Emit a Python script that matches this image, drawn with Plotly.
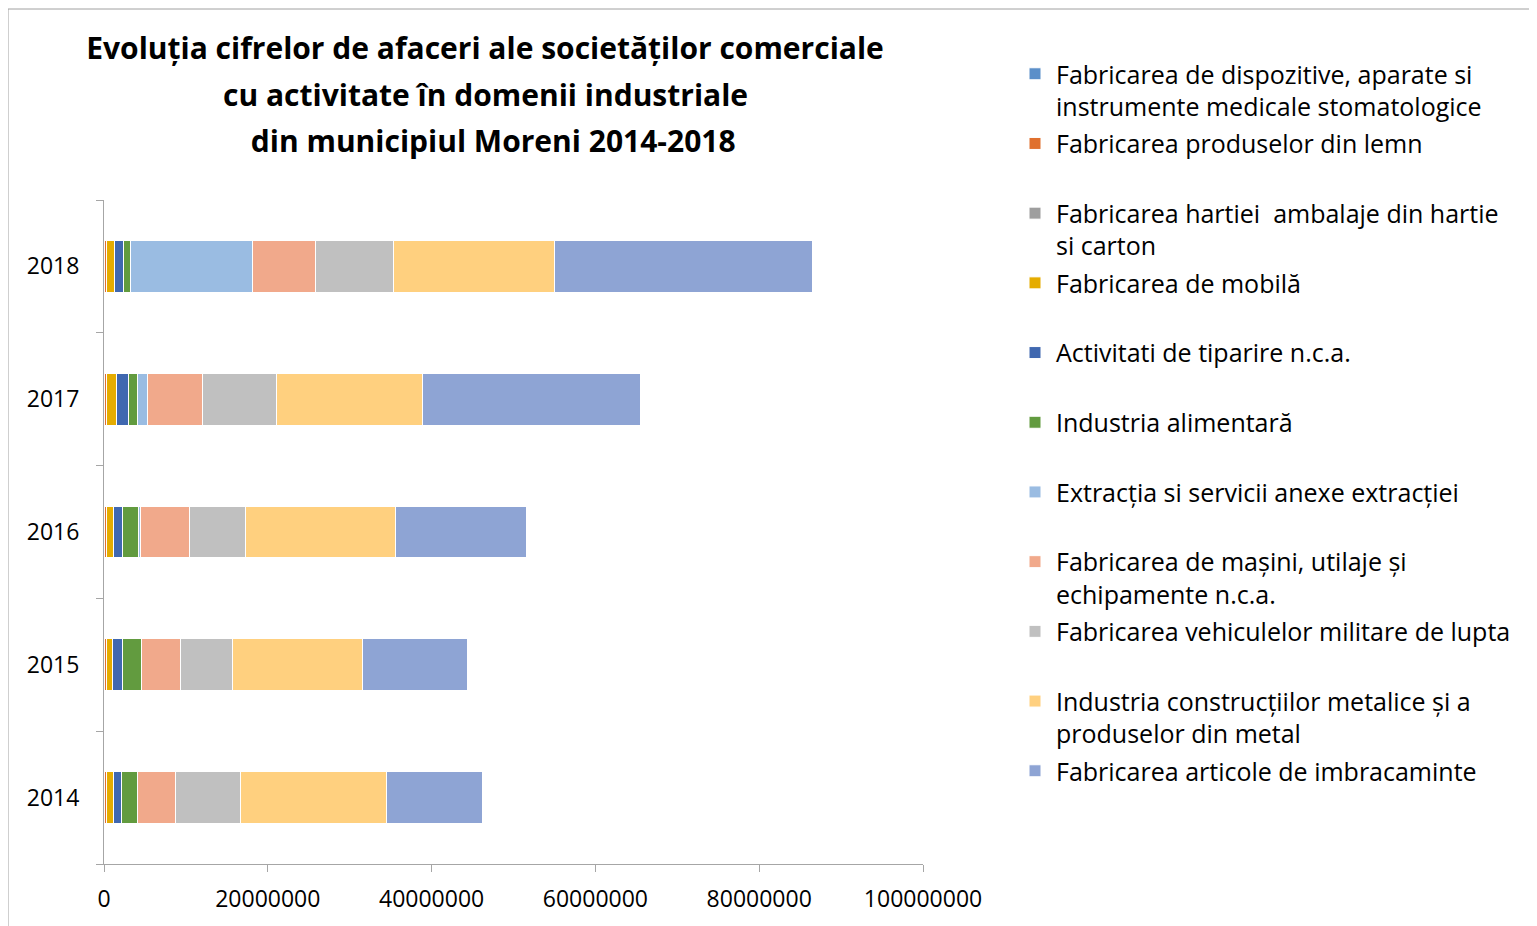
import plotly.graph_objects as go

years = ["2014", "2015", "2016", "2017", "2018"]

series_names = [
    "Fabricarea de dispozitive, aparate si<br>instrumente medicale stomatologice",
    "Fabricarea produselor din lemn",
    "Fabricarea hartiei  ambalaje din hartie<br>si carton",
    "Fabricarea de mobilă",
    "Activitati de tiparire n.c.a.",
    "Industria alimentară",
    "Extracția si servicii anexe extracției",
    "Fabricarea de mașini, utilaje și<br>echipamente n.c.a.",
    "Fabricarea vehiculelor militare de lupta",
    "Industria construcțiilor metalice și a<br>produselor din metal",
    "Fabricarea articole de imbracaminte",
]

dispozitive = [0, 0, 0, 0, 0]
lemn = [300000, 300000, 300000, 350000, 350000]
hartie = [0, 0, 0, 0, 0]
mobila = [900000, 750000, 850000, 1150000, 900000]
tiparire = [950000, 1200000, 1150000, 1450000, 1100000]
alimentara = [1900000, 2300000, 1900000, 1100000, 900000]
extractia = [0, 0, 200000, 1300000, 14900000]
masini = [4700000, 4800000, 6100000, 6700000, 7700000]
vehicule = [7900000, 6300000, 6800000, 9000000, 9500000]
constructii = [17800000, 15900000, 18300000, 17800000, 19600000]
imbracaminte = [11800000, 12800000, 16000000, 26600000, 31500000]

values = [dispozitive, lemn, hartie, mobila, tiparire, alimentara,
          extractia, masini, vehicule, constructii, imbracaminte]

colors = ["#5B8FC9", "#E0702E", "#9E9E9E", "#E5AC00", "#4068B0", "#629B3F",
          "#9ABCE2", "#F1A98B", "#C0C0C0", "#FFD07F", "#8EA4D4"]

x_ticks = [0, 20000000, 40000000, 60000000, 80000000, 100000000]

title_lines = [
    "Evoluția cifrelor de afaceri ale societăților comerciale",
    "cu activitate în domenii industriale",
    " din municipiul Moreni 2014-2018",
]

FONT = "Open Sans"
TITLE_SIZE = 30

fig = go.Figure()
for i, (name, vals, col) in enumerate(zip(series_names, values, colors)):
    label = name if "<br>" in name else name + "<br> "
    fig.add_trace(go.Bar(
        y=years, x=vals, name=label, orientation="h",
        marker=dict(color=col, line=dict(color="white", width=1)),
        legendgroup=f"g{i}",
    ))

# page has an 8px body margin; figure coordinates = page - 8
OFF = 8
W, H = 1537 - OFF, 926 - OFF
L, R, T, B = 104 - OFF, 614, 200 - OFF, 62
pw, ph = W - L - R, H - T - B


def fx(p):  # page x -> paper x
    return (p - OFF - L) / pw


def fy(p):  # page y -> paper y
    return 1 - (p - OFF - T) / ph


annotations = [
    dict(text=f"<b>{title_lines[1]}</b>", x=fx(485), y=fy(94),
         xref="paper", yref="paper", xanchor="center", yanchor="middle",
         showarrow=False, font=dict(family=FONT, size=TITLE_SIZE, color="#000000")),
    dict(text=f"<b>{title_lines[2]}</b>", x=fx(489), y=fy(140),
         xref="paper", yref="paper", xanchor="center", yanchor="middle",
         showarrow=False, font=dict(family=FONT, size=TITLE_SIZE, color="#000000")),
]

fig.update_layout(
    width=W, height=H,
    margin=dict(l=L, r=R, t=T, b=B),
    barmode="stack",
    bargap=0.61,
    paper_bgcolor="white",
    plot_bgcolor="white",
    font=dict(family=FONT, size=23, color="#000000"),
    title=dict(
        text=f"<b>{title_lines[0]}</b>",
        x=(485 - OFF) / W, xanchor="center", xref="container",
        y=1 - (48 - OFF) / H, yanchor="middle", yref="container",
        font=dict(family=FONT, size=TITLE_SIZE, color="#000000"),
    ),
    annotations=annotations,
    showlegend=True,
    legend=dict(
        x=fx(1014), xanchor="left",
        y=fy(51), yanchor="top",
        traceorder="grouped",
        tracegroupgap=1.7,
        valign="top",
        maxheight=900,
        itemwidth=32,
        font=dict(family=FONT, size=25, color="#000000"),
        bgcolor="rgba(0,0,0,0)",
    ),
    xaxis=dict(
        range=[0, 100000000],
        tickvals=x_ticks,
        ticktext=[str(v) for v in x_ticks],
        showgrid=False, zeroline=False,
        showline=True, linecolor="#A6A6A6", linewidth=1,
        ticks="outside", ticklen=7, tickcolor="#A6A6A6",
        ticklabelstandoff=7,
        tickfont=dict(family=FONT, size=23, color="#000000"),
    ),
    yaxis=dict(
        categoryorder="array", categoryarray=years,
        showgrid=False, zeroline=False,
        showline=True, linecolor="#A6A6A6", linewidth=1,
        ticks="outside", ticklen=7, tickcolor="#A6A6A6",
        tickson="boundaries",
        ticklabelstandoff=19,
        tickfont=dict(family=FONT, size=23, color="#000000"),
    ),
    shapes=[dict(
        type="rect", xref="paper", yref="paper",
        x0=fx(8), x1=fx(1600), y0=fy(1000), y1=fy(9),
        line=dict(color="#A0A0A0", width=1), fillcolor="rgba(0,0,0,0)",
        layer="below",
    )],
)

fig.write_html("out.html")
